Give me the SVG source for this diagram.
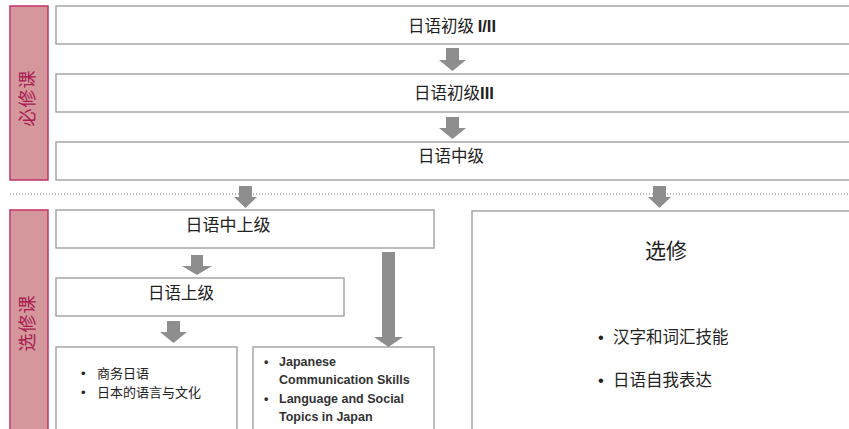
<svg xmlns="http://www.w3.org/2000/svg" width="849" height="429" viewBox="0 0 849 429">
<style>
.box{fill:#fff;stroke:#a6a6a6;stroke-width:1.5}
.side{fill:#d4989c;stroke:#c2336a;stroke-width:1.5}
.st{font-family:"Noto Sans CJK SC","Noto Sans",sans-serif;font-size:18px;fill:#a81a52;text-anchor:middle;letter-spacing:1px}
.t{font-family:"Noto Sans CJK SC","Liberation Sans",sans-serif;font-size:16.5px;fill:#222;text-anchor:middle}
.l{text-anchor:start}
.b{font-family:"Noto Sans CJK SC","Liberation Sans",sans-serif;font-size:13px;fill:#222}
.e{font-family:"Liberation Sans","Noto Sans CJK SC",sans-serif;font-size:12.5px;font-weight:bold;fill:#333}
.bu{font-family:"Liberation Sans",sans-serif}
.lat{font-family:"Liberation Sans",sans-serif;font-weight:bold}
.arr{fill:#8e8e8e}
</style>
<rect width="849" height="429" fill="#fff"/>
<g id="side-required">
<rect class="side" x="10" y="6" width="38" height="174"/>
<text class="st" transform="translate(34,98) rotate(-90)">必修课</text>
</g>
<g id="side-elective">
<rect class="side" x="10" y="210" width="38" height="230"/>
<text class="st" transform="translate(34,323) rotate(-90)">选修课</text>
</g>
<g id="n1"><rect class="box" x="56" y="6" width="800" height="38"/><text class="t" x="452" y="32">日语初级 <tspan class="lat">I/II</tspan></text></g>
<g id="n2"><rect class="box" x="56" y="74" width="800" height="38"/><text class="t" x="454" y="99">日语初级<tspan class="lat">III</tspan></text></g>
<g id="n3"><rect class="box" x="56" y="142" width="800" height="38"/><text class="t" x="451" y="162">日语中级</text></g>
<g id="n4"><rect class="box" x="56" y="210" width="378" height="38"/><text class="t" x="228" y="231" style="font-size:17px">日语中上级</text></g>
<g id="n5"><rect class="box" x="56" y="278" width="288" height="38"/><text class="t" x="181" y="299">日语上级</text></g>
<g id="n6"><rect class="box" x="56" y="347" width="181" height="100"/>
<text class="b" x="81" y="378"><tspan class="bu">•</tspan><tspan x="97">商务日语</tspan></text>
<text class="b" x="81" y="397"><tspan class="bu">•</tspan><tspan x="97">日本的语言与文化</tspan></text></g>
<g id="n7"><rect class="box" x="253" y="347" width="181" height="100"/>
<text class="e" x="264" y="366"><tspan>•</tspan><tspan x="279">Japanese</tspan></text>
<text class="e" x="279" y="384">Communication Skills</text>
<text class="e" x="264" y="403"><tspan>•</tspan><tspan x="279">Language and Social</tspan></text>
<text class="e" x="279" y="421">Topics in Japan</text></g>
<g id="n8"><rect class="box" x="472" y="211" width="400" height="240"/>
<text class="t" x="666" y="258" style="font-size:21px">选修</text>
<text class="t l" x="598" y="343"><tspan class="bu">•</tspan><tspan x="613">汉字和词汇技能</tspan></text>
<text class="t l" x="598" y="386"><tspan class="bu">•</tspan><tspan x="613">日语自我表达</tspan></text></g>
<line x1="10" y1="194" x2="849" y2="194" stroke="#7a7a7a" stroke-width="1" stroke-dasharray="1,2"/>
<g id="connectors">
<polygon class="arr" points="446,48 459,48 459,60 466,60 452.5,71 439,60 446,60"/>
<polygon class="arr" points="446,117 459,117 459,128 466,128 452.5,139 439,128 446,128"/>
<polygon class="arr" points="239,186 252,186 252,197 257,197 245.5,208 234,197 239,197"/>
<polygon class="arr" points="653,186 666,186 666,197 671,197 659.5,208 648,197 653,197"/>
<polygon class="arr" points="191,255 203,255 203,266 212,266 197,275 182,266 191,266"/>
<polygon class="arr" points="167,321 180,321 180,332 187,332 173.5,343 160,332 167,332"/>
<polygon class="arr" points="382,252 395,252 395,337 403,337 388.5,347 374,337 382,337"/>
</g>
</svg>
